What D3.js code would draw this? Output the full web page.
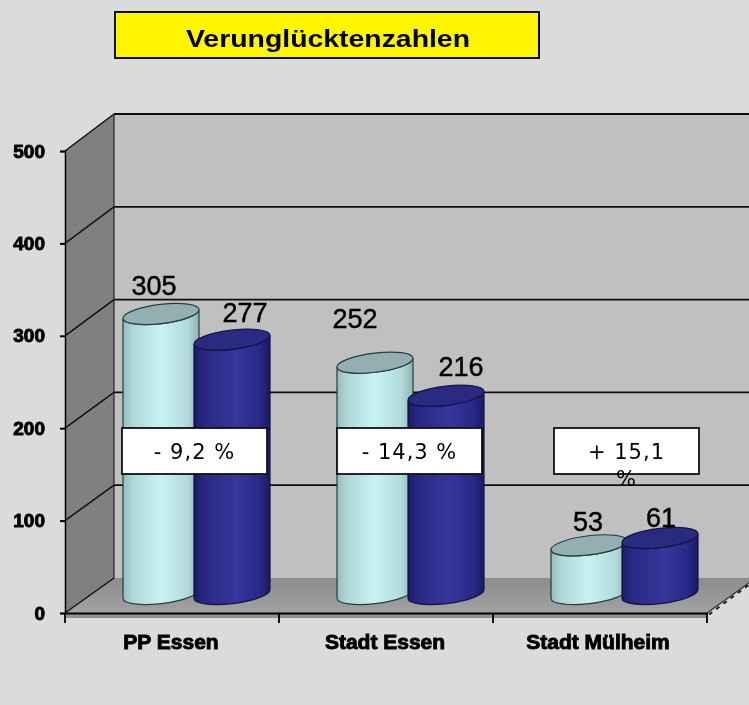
<!DOCTYPE html>
<html>
<head>
<meta charset="utf-8">
<script src="https://cdn.jsdelivr.net/npm/d3@7"></script>
<style>
html,body{margin:0;padding:0;background:#dadcdb;}
svg{display:block;}
text{font-family:"Liberation Sans",Arial,sans-serif;fill:#000;}
</style>
</head>
<body>
<svg id="c" width="749" height="705"></svg>
<script>
const chartTitle = "Verunglücktenzahlen";
const categories = ["PP Essen", "Stadt Essen", "Stadt Mülheim"];
const seriesA = [305, 252, 53];
const seriesB = [277, 216, 61];
const changeLabels = [["- 9,2 %"], ["- 14,3 %"], ["+ 15,1", "%"]];
const yTicks = [0, 100, 200, 300, 400, 500];

const svg = d3.select("#c");
const defs = svg.append("defs");
defs.append("filter").attr("id","soft").attr("x","-5%").attr("y","-5%").attr("width","110%").attr("height","110%")
  .append("feGaussianBlur").attr("stdDeviation",0.55);
function grad(id, stops){
  const g = defs.append("linearGradient").attr("id",id).attr("x1","0").attr("x2","1").attr("y1","0").attr("y2","0");
  stops.forEach(s=>g.append("stop").attr("offset",s[0]).attr("stop-color",s[1]));
}
grad("cyan",[[0,"#93bcbc"],[0.12,"#aed6d6"],[0.5,"#c9f2f3"],[0.85,"#b2dadb"],[1,"#8db4b5"]]);
grad("blue",[[0,"#1c1c68"],[0.15,"#2a2a85"],[0.55,"#35359c"],[0.85,"#29298a"],[1,"#1b1b66"]]);
const fg = defs.append("linearGradient").attr("id","floor").attr("x1","0").attr("x2","0").attr("y1","0").attr("y2","1");
fg.append("stop").attr("offset",0).attr("stop-color","#8c8c8c");
fg.append("stop").attr("offset",1).attr("stop-color","#a2a2a2");

const root = svg.append("g").attr("filter","url(#soft)");

const xFront = d3.scaleBand().domain(categories).range([65,707]);
const dx = 49;
const yFront = d3.scaleLinear().domain([0,500]).range([613,151]);
const yBack = d3.scaleLinear().domain([0,500]).range([578,114]);
const yCyl = d3.scaleLinear().domain([0,500]).range([594,135]);
const xR = 707, xB = 65;

// back wall
root.append("rect").attr("x",xB+dx).attr("y",yBack(500)).attr("width",749-xB-dx).attr("height",yBack(0)-yBack(500)).attr("fill","#c0c0c0");
// side wall
root.append("polygon").attr("points",[[xB,yFront(500)],[xB+dx,yBack(500)],[xB+dx,yBack(0)],[xB,yFront(0)]].join(" ")).attr("fill","#808080");
// base band under floor
root.append("polygon").attr("points",[[xB,yFront(0)],[xR,yFront(0)],[xR,618],[xB,618]].join(" ")).attr("fill","#929292");
// floor
root.append("polygon").attr("points",[[xB,yFront(0)],[xB+dx,yBack(0)],[xR+dx,yBack(0)],[xR,yFront(0)]].join(" ")).attr("fill","url(#floor)");

// gridlines
const grid = yTicks.filter(d=>d>0);
root.selectAll(".gb").data(grid).join("line").attr("x1",xB+dx).attr("x2",749).attr("y1",d=>yBack(d)).attr("y2",d=>yBack(d)).attr("stroke","#111").attr("stroke-width",1.8);
root.selectAll(".gs").data(yTicks).join("line").attr("x1",xB).attr("x2",xB+dx).attr("y1",d=>yFront(d)).attr("y2",d=>yBack(d)).attr("stroke","#111").attr("stroke-width",1.5);
root.append("line").attr("x1",xB+dx).attr("x2",xB+dx).attr("y1",yBack(500)).attr("y2",yBack(0)).attr("stroke","#222").attr("stroke-width",1.2);
root.append("line").attr("x1",xR).attr("x2",756).attr("y1",613).attr("y2",578).attr("stroke","#333").attr("stroke-width",1.5);
root.append("line").attr("x1",xR+2).attr("x2",756).attr("y1",614.5).attr("y2",579.5).attr("stroke","#222").attr("stroke-width",2).attr("stroke-dasharray","4 5");

// axes
const axL = d3.axisLeft(yFront).tickValues(yTicks).tickSize(5).tickPadding(15);
const gL = root.append("g").attr("transform",`translate(${xB},0)`).call(axL);
gL.selectAll("line,path").attr("stroke","#000").attr("stroke-width",2);
gL.select(".domain").attr("stroke-width",1.5);
gL.selectAll("text").attr("font-family",'"Liberation Sans",Arial,sans-serif').attr("font-size",19).attr("font-weight","bold").attr("fill","#000").attr("stroke","#000").attr("stroke-width",0.9);

const axB = d3.axisBottom(xFront).tickValues([]).tickSizeOuter(0);
const gB = root.append("g").attr("transform",`translate(0,${yFront(0)})`).call(axB);
gB.select(".domain").attr("stroke","#000").attr("stroke-width",2);
const edges = [65].concat(categories.map(c=>xFront(c)+xFront.bandwidth()));
gB.selectAll(".tk").data(edges).join("line").attr("x1",d=>d).attr("x2",d=>d).attr("y1",0).attr("y2",10).attr("stroke","#000").attr("stroke-width",1.8);
gB.selectAll(".lb").data(categories).join("text")
  .attr("x",(d,i)=>xFront(d)+xFront.bandwidth()/2+[-1,-1,-2][i]).attr("y",36).attr("text-anchor","middle")
  .attr("font-size",21).attr("font-weight","bold").attr("stroke","#000").attr("stroke-width",0.9).text(d=>d);

// cylinders
const rx = 38, ry = 9.5, tilt = 4.5, rot = -7;
const cylOffset = d3.scaleOrdinal().domain(["a","b"]).range([96,167]);
function body(cx,yT,yB){
  return `M${cx-rx},${yT+tilt}L${cx-rx},${yB+tilt}A${rx},${ry} ${rot} 0 0 ${cx+rx},${yB-tilt}L${cx+rx},${yT-tilt}A${rx},${ry} ${rot} 0 1 ${cx-rx},${yT+tilt}Z`;
}
function topEll(cx,yT){
  return `M${cx-rx},${yT+tilt}A${rx},${ry} ${rot} 1 1 ${cx+rx},${yT-tilt}A${rx},${ry} ${rot} 1 1 ${cx-rx},${yT+tilt}Z`;
}
const bars=[];
categories.forEach((c,i)=>{
  bars.push({c,v:seriesA[i],s:"a",fill:"url(#cyan)",top:"#94afb1",st:"#24403f"});
  bars.push({c,v:seriesB[i],s:"b",fill:"url(#blue)",top:"#2b2b82",st:"#12123f"});
});
const cx = d=>xFront(d.c)+cylOffset(d.s);
const bg = root.selectAll(".cyl").data(bars).join("g");
bg.append("path").attr("d",d=>body(cx(d),yCyl(d.v),yCyl(0))).attr("fill",d=>d.fill).attr("stroke",d=>d.st).attr("stroke-width",1.2);
bg.append("path").attr("d",d=>topEll(cx(d),yCyl(d.v))).attr("fill",d=>d.top).attr("stroke",d=>d.st).attr("stroke-width",1.2);

// value labels, offset from each cylinder top as in the source
const labelNudge = {a:[[-7,-19],[-20,-35],[-1,-14]],b:[[13,-18],[15,-20],[1,-11]]};
root.selectAll(".vl").data(bars).join("text")
  .attr("x",d=>cx(d)+labelNudge[d.s][categories.indexOf(d.c)][0])
  .attr("y",d=>yCyl(d.v)+labelNudge[d.s][categories.indexOf(d.c)][1])
  .attr("text-anchor","middle").attr("font-size",27).attr("stroke","#000").attr("stroke-width",0.45).text(d=>d.v);

// change boxes
const boxShift = [57,58,61];
const box = root.selectAll(".bx").data(categories).join("g").attr("transform",(d,i)=>`translate(${xFront(d)+boxShift[i]},428)`);
box.append("rect").attr("width",145).attr("height",46).attr("fill","#fff").attr("stroke","#111").attr("stroke-width",1.8);
box.each(function(d,i){
  const t=d3.select(this).append("text").attr("x",72.5).attr("y",31).attr("text-anchor","middle")
    .attr("style",'font-family:"DejaVu Sans",Verdana,sans-serif;font-size:21px;letter-spacing:1px;font-weight:400');
  changeLabels[i].forEach((s,j)=>t.append("tspan").attr("x",72.5).attr("dy",j?27:0).text(s));
});

// title
root.append("rect").attr("x",115).attr("y",12).attr("width",424).attr("height",46).attr("fill","#fff500").attr("stroke","#111").attr("stroke-width",2);
root.append("text").attr("x",328).attr("y",47).attr("text-anchor","middle").attr("font-size",23).attr("font-weight","bold")
  .attr("textLength",284).attr("lengthAdjust","spacingAndGlyphs").text(chartTitle);
</script>
</body>
</html>
